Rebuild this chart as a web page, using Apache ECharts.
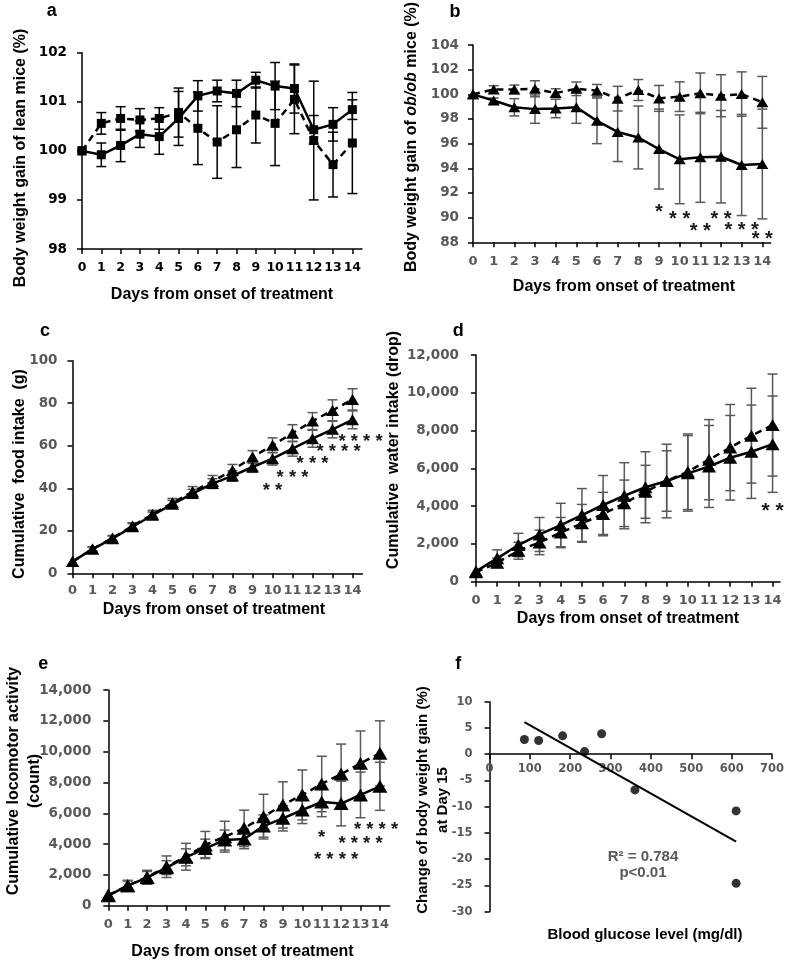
<!DOCTYPE html>
<html><head><meta charset="utf-8">
<script src="https://cdn.jsdelivr.net/npm/echarts@6/dist/echarts.min.js"></script>
<style>html,body{margin:0;padding:0;background:#fff}#c{width:787px;height:964px}</style>
</head><body><div id="c"></div>
<script>
// ---------- DATA ----------
const days = [0,1,2,3,4,5,6,7,8,9,10,11,12,13,14];

// a: body weight gain of lean mice (%)
const aSolid     = [100, 99.92, 100.11, 100.34, 100.29, 100.66, 101.12, 101.22, 101.17, 101.44, 101.32, 101.27, 100.43, 100.54, 100.84];
const aSolidErr  = [0, 0.24, 0.33, 0.27, 0.36, 0.55, 0.31, 0.22, 0.27, 0.16, 0.48, 0.5, 0.29, 0.34, 0.2];
const aDashed    = [100, 100.56, 100.66, 100.63, 100.66, 100.78, 100.46, 100.18, 100.43, 100.73, 100.56, 101.05, 100.21, 99.72, 100.16];
const aDashedErr = [0, 0.22, 0.24, 0.23, 0.22, 0.5, 0.74, 0.74, 0.77, 0.57, 0.86, 0.7, 1.21, 0.66, 1.03];

// b: body weight gain of ob/ob mice (%)
const bSolid     = [100, 99.5, 98.95, 98.8, 98.85, 98.95, 97.85, 96.95, 96.5, 95.56, 94.73, 94.89, 94.94, 94.27, 94.35];
const bSolidErr  = [0, 0.2, 0.7, 1.15, 0.75, 1.3, 1.85, 2.4, 2.55, 3.24, 3.6, 3.65, 3.75, 4.1, 4.45];
const bDashed    = [100, 100.4, 100.4, 100.45, 100.1, 100.45, 100.3, 99.65, 100.35, 99.67, 99.81, 100.08, 99.89, 100.02, 99.35];
const bDashedErr = [0, 0.3, 0.35, 0.65, 0.35, 0.55, 0.5, 1.0, 0.85, 1.05, 1.2, 1.65, 1.7, 1.8, 2.1];
const bStars = [[9, 90.8, '*'], [10, 90.2, '* *'], [11, 89.26, '* *'], [12, 90.2, '* *'], [13, 89.3, '* * *'], [14, 88.6, '* *']];

// c: cumulative food intake (g)
const cSolid     = [5.5, 11.4, 16.3, 21.9, 27.3, 32.5, 37.5, 42.2, 45.8, 50.0, 53.9, 58.6, 63.3, 67.7, 72.2];
const cSolidErr  = [0, 1, 1.2, 1.5, 1.5, 1.8, 2, 2.3, 2.5, 2.5, 3, 3.5, 4, 4, 4.2];
const cDashed    = [5.5, 11.4, 16.6, 22.3, 27.8, 33.2, 38.3, 43.3, 48.4, 54.7, 60.2, 65.9, 71.6, 76.6, 81.8];
const cDashedErr = [0, 1, 1.2, 1.5, 1.8, 2, 2.5, 2.7, 2.8, 3, 3.5, 4, 4, 5, 5];
const cStars = [[10, 40.75, '* *'], [11, 46.7, '* * *'], [12, 53.3, '* * *'], [13.3, 58.8, '* * * *'], [14.4, 63.8, '* * * *']];

// d: cumulative water intake (drop)
const dSolid     = [550, 1235, 1940, 2500, 3000, 3530, 4060, 4550, 5000, 5330, 5735, 6100, 6560, 6880, 7280];
const dSolidErr  = [0, 450, 620, 900, 1150, 1400, 1560, 1750, 1880, 1950, 2000, 2170, 2240, 2470, 2550];
const dDashed    = [500, 1000, 1640, 2080, 2600, 3090, 3580, 4150, 4760, 5330, 5820, 6460, 7100, 7730, 8290];
const dDashedErr = [0, 250, 450, 650, 800, 1000, 1150, 1230, 1400, 1600, 2000, 2120, 2280, 2510, 2700];
const dStars = [[14, 3970, '* *']];

// e: cumulative locomotor activity (count)
const eSolid     = [650, 1300, 1820, 2470, 3140, 3720, 4260, 4330, 5170, 5670, 6210, 6730, 6630, 7190, 7750];
const eSolidErr  = [0, 300, 400, 450, 550, 600, 650, 630, 720, 820, 880, 950, 1450, 1480, 1560];
const eDashed    = [690, 1300, 1850, 2530, 3180, 3940, 4480, 5020, 5780, 6540, 7190, 7900, 8540, 9240, 9890];
const eDashedErr = [0, 350, 450, 700, 870, 880, 1000, 1180, 1450, 1500, 1620, 1800, 1950, 2100, 2110];
const eStars = [[11, 4650, '*'], [11.74, 3250, '* * * *'], [13.0, 4270, '* * * *'], [13.8, 5200, '* * * *']];

// f: blood glucose vs change of body weight gain
const fGlucose = [86, 121, 180, 234, 276, 358, 607, 607];
const fChange  = [2.8, 2.6, 3.5, 0.5, 3.9, -6.8, -10.8, -24.6];
const fXTicks  = [0, 100, 200, 300, 400, 500, 600, 700];
const fYTicks  = [-30, -25, -20, -15, -10, -5, 0, 5, 10];

// ---------- STYLE ----------
const FF = '"Liberation Sans", Arial, Helvetica, sans-serif';
const TF = '"DejaVu Sans", Verdana, sans-serif';
const GRAY = '#595959';

function xAxisDays(i, max, color, margin, fs) {
  return {type:'value', gridIndex:i, min:0, max:max, interval:1,
    axisLine:{show:true, onZero:false, lineStyle:{color:'#000', width:1.5}},
    axisTick:{show:true, customValues:days, length:5, lineStyle:{color:'#000', width:1.5}},
    axisLabel:{customValues:days, color:color, fontFamily:TF, fontWeight:'bold', fontSize:fs, margin:margin},
    splitLine:{show:false}};
}
function yAxisV(i, min, max, interval, color, margin, fmt, fs) {
  return {type:'value', gridIndex:i, min:min, max:max, interval:interval,
    axisLine:{show:true, onZero:false, lineStyle:{color:'#000', width:1.5}},
    axisTick:{show:true, length:5, lineStyle:{color:'#000', width:1.5}},
    axisLabel:{color:color, fontFamily:TF, fontWeight:'bold', fontSize:fs || 13.5, margin:margin, formatter:fmt},
    splitLine:{show:false}};
}
const thousands = v => v.toLocaleString('en-US');

function lineS(i, vals, dashed, symbol, size) {
  return {type:'line', xAxisIndex:i, yAxisIndex:i, z:4, animation:false, silent:true,
    data: days.map((d,k)=>[d, vals[k]]),
    symbol:symbol, symbolSize:size, showSymbol:true,
    itemStyle:{color:'#000', borderWidth:0},
    lineStyle:{color:'#000', width:2.5, type: dashed ? [7,5] : 'solid'}};
}
function errS(i, vals, errs, color, w) {
  return {type:'custom', xAxisIndex:i, yAxisIndex:i, z:3, animation:false, silent:true, clip:false,
    data: days.map((d,k)=>[d, vals[k]-errs[k], vals[k]+errs[k]]),
    encode:{x:0, y:[1,2]},
    renderItem:(params, api) => {
      const x = api.value(0), lo = api.value(1), hi = api.value(2);
      if (hi - lo <= 0) return null;
      const p1 = api.coord([x, hi]), p2 = api.coord([x, lo]);
      const hw = 5, st = {stroke:color, lineWidth:w};
      return {type:'group', children:[
        {type:'line', shape:{x1:p1[0], y1:p1[1], x2:p2[0], y2:p2[1]}, style:st},
        {type:'line', shape:{x1:p1[0]-hw, y1:p1[1], x2:p1[0]+hw, y2:p1[1]}, style:st},
        {type:'line', shape:{x1:p2[0]-hw, y1:p2[1], x2:p2[0]+hw, y2:p2[1]}, style:st}]};
    }};
}
function starS(i, stars, fs) {
  return {type:'custom', xAxisIndex:i, yAxisIndex:i, z:5, animation:false, silent:true, clip:false,
    data: stars.map(s=>[s[0], s[1]]),
    renderItem:(params, api) => {
      const p = api.coord([api.value(0), api.value(1)]);
      return {type:'text', x:p[0], y:p[1] + fs*0.22,
        style:{text: stars[params.dataIndex][2], font: 'bold ' + fs + 'px ' + FF, fill:'#1a1a1a', align:'center', verticalAlign:'middle'}};
    }};
}

// regression for panel f
const n = fGlucose.length;
const mx = fGlucose.reduce((a,b)=>a+b,0)/n, my = fChange.reduce((a,b)=>a+b,0)/n;
let sxy = 0, sxx = 0;
for (let k=0;k<n;k++){ sxy += (fGlucose[k]-mx)*(fChange[k]-my); sxx += (fGlucose[k]-mx)**2; }
const slope = sxy/sxx, icpt = my - slope*mx;
const trendX = [Math.min(...fGlucose), Math.max(...fGlucose)];
const trend = trendX.map(x=>[x, icpt + slope*x]);

// ---------- TEXT ----------
function txt(t, x, y, size, opts) {
  opts = opts || {};
  return {type:'text', x:x, y:y, rotation: opts.rot ? Math.PI/2 : 0, z:10,
    style:Object.assign({text:t, font:'bold ' + size + 'px ' + FF, fill: opts.fill || '#000',
      align:'center', verticalAlign:'middle', lineHeight: opts.lh || size}, opts.extra || {})};
}
const graphics = [
  txt('a', 51.7, 11.5, 18), txt('b', 455, 12, 18), txt('c', 45, 331, 18),
  txt('d', 458.3, 331, 18), txt('e', 43.3, 664, 18), txt('f', 458.3, 664, 18),
  txt('Days from onset of treatment', 222, 295, 16),
  txt('Body weight gain of lean mice (%)', 21, 158, 16, {rot:true}),
  txt('Days from onset of treatment', 624, 287, 16),
  {type:'text', x:411.7, y:137, rotation:Math.PI/2, z:10,
    style:{text:'{n|Body weight gain of }{i|ob/ob}{n| mice (%)}', align:'center', verticalAlign:'middle',
      rich:{n:{font:'bold 16px ' + FF, fill:'#000'}, i:{font:'italic bold 16px ' + FF, fill:'#000'}}}},
  txt('Days from onset of treatment', 214, 610, 16),
  txt('Cumulative  food intake  (g)', 20, 474, 16, {rot:true}),
  txt('Days from onset of treatment', 628, 618.3, 16),
  txt('Cumulative  water intake (drop)', 394, 450, 16, {rot:true}),
  txt('Days from onset of treatment', 242.5, 951.7, 16),
  txt('Cumulative locomotor activity\n(count)', 24, 781, 16, {rot:true, lh:21.5}),
  txt('Blood glucose level (mg/dl)', 645, 935, 15),
  txt('Change of body weight gain (%)\nat Day 15', 433, 800, 15, {rot:true, lh:20}),
  txt('R\u00b2 = 0.784\np<0.01', 643, 865, 15, {fill:GRAY, lh:15.5})
];

// ---------- CHART ----------
const fGrid = {left:489.5, top:701.7, width:284.4, height:210};
const fYMin = fYTicks[0], fYMax = fYTicks[fYTicks.length-1];
// companion grid whose bottom edge sits on f's y = 0 line, carrying f's visible x axis
const fAxisGrid = {left:fGrid.left, top:fGrid.top, width:fGrid.width,
  height: fGrid.height * (fYMax - 0) / (fYMax - fYMin)};

const chart = echarts.init(document.getElementById('c'), null, {renderer:'canvas'});
chart.setOption({
  animation:false,
  backgroundColor:'#fff',
  grid:[
    {left:82, top:52.7, width:280, height:196.3},
    {left:473, top:45, width:297.6, height:197.3},
    {left:72.5, top:360.7, width:290, height:212.6},
    {left:476, top:355, width:304, height:226.7},
    {left:108.3, top:690, width:281.3, height:215.7},
    fGrid,
    fAxisGrid
  ],
  xAxis:[
    xAxisDays(0, 14.5, '#000', 12, 12.5),
    xAxisDays(1, 14.4, GRAY, 13, 13),
    xAxisDays(2, 14.5, GRAY, 11, 13),
    xAxisDays(3, 14.35, GRAY, 12, 13),
    xAxisDays(4, 14.5, GRAY, 12, 13),
    {type:'value', gridIndex:5, min:fXTicks[0], max:fXTicks[fXTicks.length-1], interval:100, show:false},
    {type:'value', gridIndex:6, min:fXTicks[0], max:fXTicks[fXTicks.length-1], interval:100,
      axisLine:{show:true, onZero:false, lineStyle:{color:'#000', width:1.5}},
      axisTick:{show:true, length:5, lineStyle:{color:'#000', width:1.5}},
      axisLabel:{color:GRAY, fontFamily:TF, fontWeight:'bold', fontSize:11.5, margin:9},
      splitLine:{show:false}}
  ],
  yAxis:[
    yAxisV(0, 98, 102, 1, '#000', 15),
    yAxisV(1, 88, 104, 2, GRAY, 14),
    yAxisV(2, 0, 100, 20, GRAY, 15),
    yAxisV(3, 0, 12000, 2000, GRAY, 17, thousands),
    yAxisV(4, 0, 14000, 2000, GRAY, 17, thousands),
    yAxisV(5, fYMin, fYMax, 5, GRAY, 17, null, 11.5),
    {type:'value', gridIndex:6, min:0, max:fYMax, show:false}
  ],
  series:[
    errS(0, aSolid, aSolidErr, '#000', 1.5), errS(0, aDashed, aDashedErr, '#000', 1.5),
    lineS(0, aSolid, false, 'rect', 9), lineS(0, aDashed, true, 'rect', 9),

    errS(1, bSolid, bSolidErr, GRAY, 1.5), errS(1, bDashed, bDashedErr, GRAY, 1.5),
    lineS(1, bSolid, false, 'triangle', [12,10]), lineS(1, bDashed, true, 'triangle', [12,10]),
    starS(1, bStars, 20),

    errS(2, cSolid, cSolidErr, GRAY, 1.5), errS(2, cDashed, cDashedErr, GRAY, 1.5),
    lineS(2, cSolid, false, 'triangle', [13,11]), lineS(2, cDashed, true, 'triangle', [13,11]),
    starS(2, cStars, 18.5),

    errS(3, dSolid, dSolidErr, GRAY, 1.5), errS(3, dDashed, dDashedErr, GRAY, 1.5),
    lineS(3, dSolid, false, 'triangle', [14,12]), lineS(3, dDashed, true, 'triangle', [14,12]),
    starS(3, dStars, 21),

    errS(4, eSolid, eSolidErr, GRAY, 1.5), errS(4, eDashed, eDashedErr, GRAY, 1.5),
    lineS(4, eSolid, false, 'triangle', [15,13]), lineS(4, eDashed, true, 'triangle', [15,13]),
    starS(4, eStars, 18.5),

    {type:'scatter', xAxisIndex:5, yAxisIndex:5, z:4, silent:true,
      data: fGlucose.map((g,k)=>[g, fChange[k]]), symbol:'circle', symbolSize:9,
      itemStyle:{color:'#000'}},
    {type:'line', xAxisIndex:5, yAxisIndex:5, z:3, silent:true, data:trend, symbol:'none',
      lineStyle:{color:'#000', width:2}}
  ],
  graphic: graphics
});
</script></body></html>
